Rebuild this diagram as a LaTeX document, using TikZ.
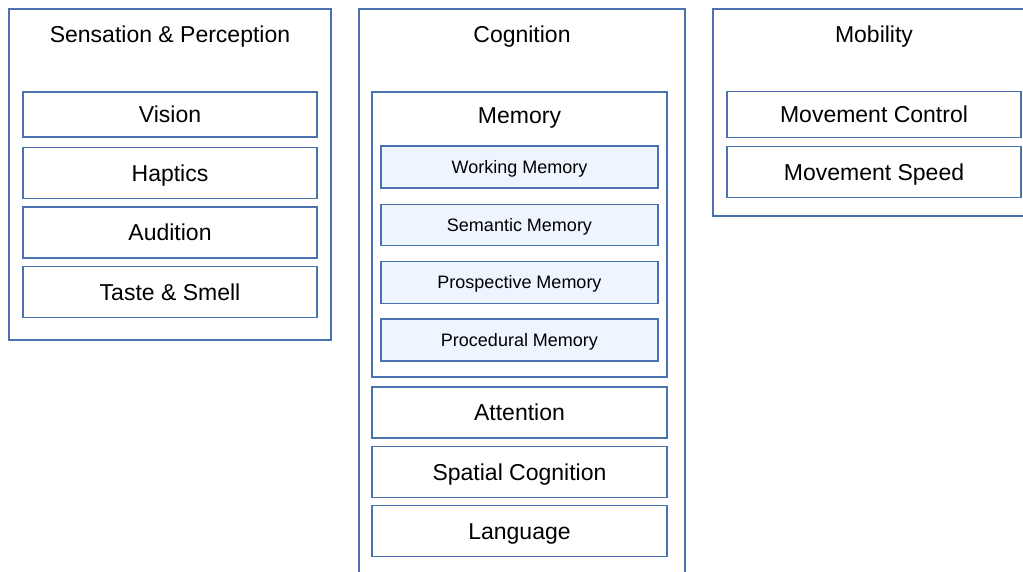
\documentclass[tikz,border=0pt]{standalone}
\usepackage{fontspec}
\setmainfont{Liberation Sans}
\definecolor{bd}{HTML}{4A72B0}
\definecolor{lb}{HTML}{EEF5FE}
\newcommand\bigtxt{\fontsize{23bp}{27bp}\selectfont}
\newcommand\smalltxt{\fontsize{18bp}{22bp}\selectfont}
\tikzset{
  frame/.style={draw=bd, line width=1.4bp, fill=white, inner sep=0pt},
  bigbox/.style={frame, font=\bigtxt, text height=16.5bp, text depth=0pt},
  subbox/.style={frame, fill=lb, font=\smalltxt, text height=13bp, text depth=0pt},
  ttl/.style={inner sep=0pt, font=\bigtxt, text height=16.5bp, text depth=0pt}
}
\begin{document}
\begin{tikzpicture}[x=1bp,y=-1bp]
\useasboundingbox (0,0) rectangle (1023,572);
\clip (0,0) rectangle (1023,572);
% Sensation & Perception
\node[frame, minimum width=322bp, minimum height=331bp] (sp) at (170,174.5) {};
\node[ttl] (spt) at (170,34.5) {Sensation \& Perception};
\node[bigbox, minimum width=294bp, minimum height=45bp] (vis) at (170,114.5) {Vision};
\node[bigbox, minimum width=294bp, minimum height=51bp] (hap) at (170,173) {Haptics};
\node[bigbox, minimum width=294bp, minimum height=51bp] (aud) at (170,232.5) {Audition};
\node[bigbox, minimum width=294bp, minimum height=51bp] (tas) at (170,292) {Taste \& Smell};
% Cognition
\node[frame, minimum width=326bp, minimum height=600bp] (cog) at (522,309) {};
\node[ttl] (cogt) at (522,34.5) {Cognition};
\node[frame, minimum width=295bp, minimum height=285bp] (mem) at (519.5,234.5) {};
\node[ttl] (memt) at (519.5,115) {Memory};
\node[subbox, minimum width=277bp, minimum height=42bp] (wm) at (519.5,167) {Working Memory};
\node[subbox, minimum width=277bp, minimum height=41.5bp] (sm) at (519.5,225) {Semantic Memory};
\node[subbox, minimum width=277bp, minimum height=41.6bp] (pm) at (519.5,282.5) {Prospective Memory};
\node[subbox, minimum width=277bp, minimum height=41.7bp] (prm) at (519.5,340) {Procedural Memory};
\node[bigbox, minimum width=295bp, minimum height=51bp] (att) at (519.5,412.5) {Attention};
\node[bigbox, minimum width=295bp, minimum height=50.6bp] (spc) at (519.5,472) {Spatial Cognition};
\node[bigbox, minimum width=295bp, minimum height=51bp] (lan) at (519.5,531) {Language};
% Mobility
\node[frame, minimum width=326bp, minimum height=207bp] (mob) at (876,112.5) {};
\node[ttl] (mobt) at (874,34.5) {Mobility};
\node[bigbox, minimum width=294bp, minimum height=45.6bp] (mc) at (874,114.5) {Movement Control};
\node[bigbox, minimum width=294bp, minimum height=50.6bp] (ms) at (874,172) {Movement Speed};
\end{tikzpicture}
\end{document}
